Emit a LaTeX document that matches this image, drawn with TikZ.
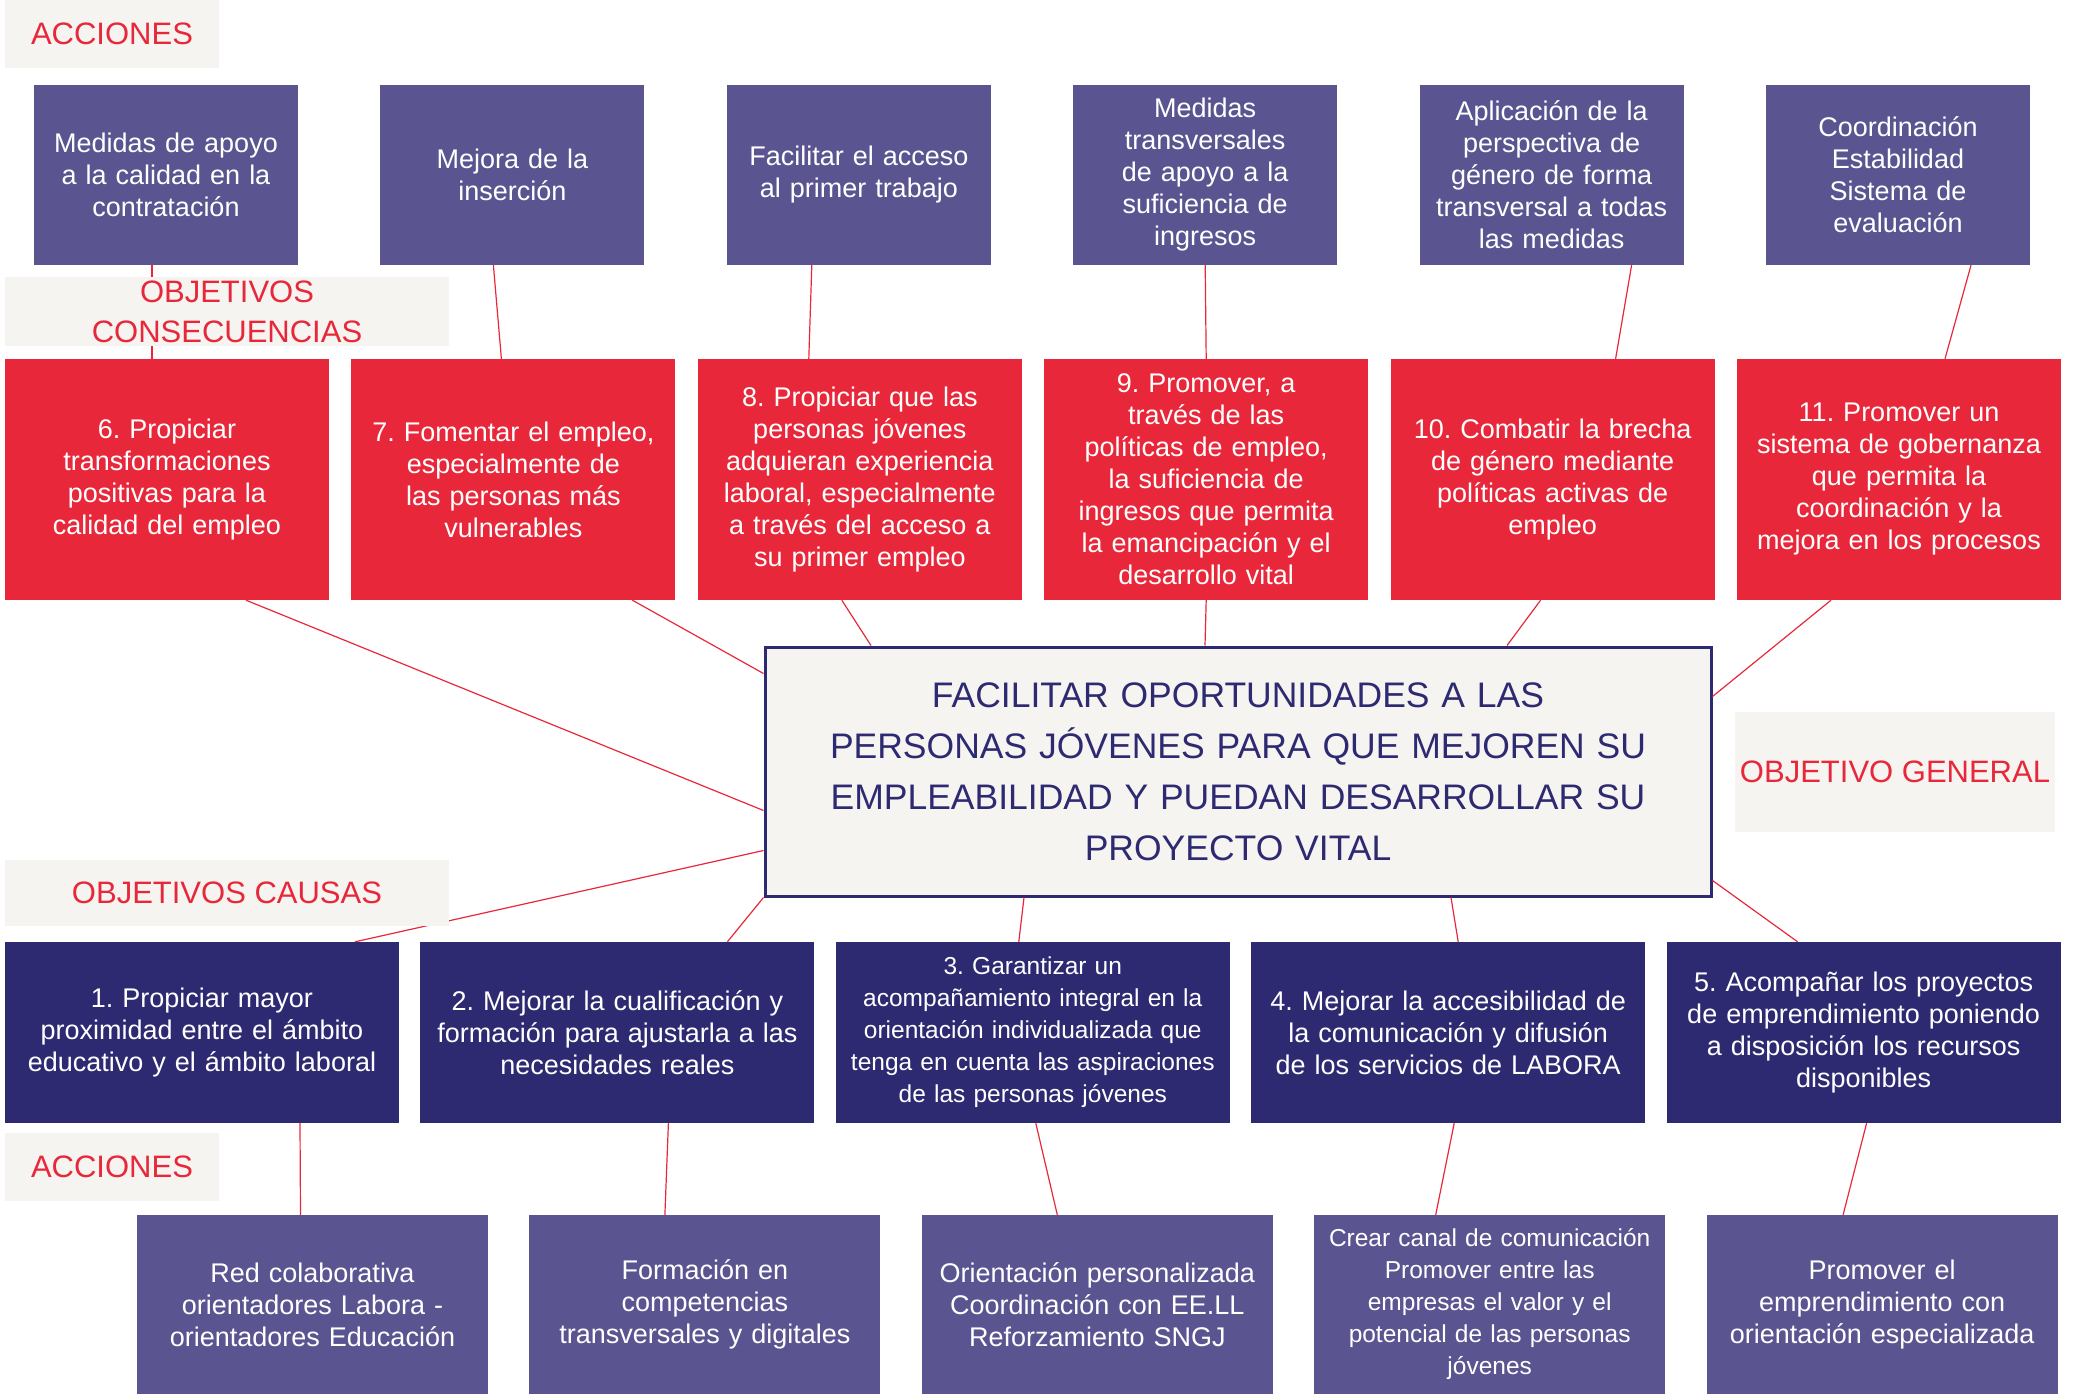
\documentclass[tikz,border=0pt]{standalone}
\usepackage{fontspec}
\setmainfont{Liberation Sans}
\frenchspacing
\usetikzlibrary{%
    positioning
}

\definecolor{accpurple}{HTML}{5A5590}
\definecolor{consred}{HTML}{E8283A}
\definecolor{causanavy}{HTML}{2E2A72}
\definecolor{tagbg}{HTML}{F5F4F0}
\definecolor{tagred}{HTML}{E8283A}
\definecolor{linkred}{HTML}{E8283A}

\begin{document}
\begin{tikzpicture}[x=1pt, y=-1pt,
    box/.style={align=center, text=white, inner xsep=6pt, inner ysep=0pt,
                font=\fontsize{27}{32}\selectfont},
    accion/.style={box, fill=accpurple, text width=252pt, minimum height=180pt},
    consec/.style={box, fill=consred, text width=312pt, minimum height=241pt},
    causa/.style={box, fill=causanavy, text width=382pt, minimum height=181pt},
    medida/.style={box, fill=accpurple, text width=339pt, minimum height=179pt},
    smaller/.style={font=\fontsize{24.5}{32}\selectfont},
    tag/.style={fill=tagbg, text=tagred, align=center, inner sep=0pt,
                font=\fontsize{31}{40}\selectfont},
    link/.style={draw=linkred, line width=1.2pt},
   ]
    \useasboundingbox (0,0) rectangle (2078,1394);

    % acciones (arriba)
    \node[accion] (acc-1) at (166,175) {Medidas de apoyo\\a la calidad en la\\contratación};
    \node[accion, right=82pt of acc-1] (acc-2) {Mejora de la\\inserción};
    \node[accion, right=82pt of acc-2] (acc-3) {Facilitar el acceso\\al primer trabajo};
    \node[accion, right=82pt of acc-3] (acc-4) {Medidas\\transversales\\de apoyo a la\\suficiencia de\\ingresos};
    \node[accion, right=82pt of acc-4] (acc-5) {Aplicación de la\\perspectiva de\\género de forma\\transversal a todas\\las medidas};
    \node[accion, right=82pt of acc-5] (acc-6) {Coordinación\\Estabilidad\\Sistema de\\evaluación};

    % objetivos consecuencias
    \node[consec] (cons-6) at (167,479.5) {6. Propiciar\\transformaciones\\positivas para la\\calidad del empleo};
    \node[consec, right=22pt of cons-6] (cons-7) {7. Fomentar el empleo,\\especialmente de\\las personas más\\vulnerables};
    \node[consec, right=22pt of cons-7] (cons-8) {8. Propiciar que las\\personas jóvenes\\adquieran experiencia\\laboral, especialmente\\a través del acceso a\\su primer empleo};
    \node[consec, right=22pt of cons-8] (cons-9) {9. Promover, a\\través de las\\políticas de empleo,\\la suficiencia de\\ingresos que permita\\la emancipación y el\\desarrollo vital};
    \node[consec, right=22pt of cons-9] (cons-10) {10. Combatir la brecha\\de género mediante\\políticas activas de\\empleo};
    \node[consec, right=22pt of cons-10] (cons-11) {11. Promover un\\sistema de gobernanza\\que permita la\\coordinación y la\\mejora en los procesos};

    % objetivo general
    \node[draw=causanavy, line width=3pt, fill=tagbg, text=causanavy, align=center,
          inner xsep=13pt, inner ysep=0pt, text width=920pt, minimum height=249pt,
          font=\fontsize{35.5}{51}\selectfont
         ] (general) at (1238,771.5)
          {FACILITAR OPORTUNIDADES A LAS\\PERSONAS JÓVENES PARA QUE MEJOREN SU\\EMPLEABILIDAD Y PUEDAN DESARROLLAR SU\\PROYECTO VITAL};

    % objetivos causas
    \node[causa] (causa-1) at (202,1032.5) {1. Propiciar mayor\\proximidad entre el ámbito\\educativo y el ámbito laboral};
    \node[causa, right=21pt of causa-1] (causa-2) {2. Mejorar la cualificación y\\formación para ajustarla a las\\necesidades reales};
    \node[causa, smaller, right=21pt of causa-2] (causa-3) {3. Garantizar un\\acompañamiento integral en la\\orientación individualizada que\\tenga en cuenta las aspiraciones\\de las personas jóvenes};
    \node[causa, right=21pt of causa-3] (causa-4) {4. Mejorar la accesibilidad de\\la comunicación y difusión\\de los servicios de LABORA};
    \node[causa, right=21pt of causa-4] (causa-5) {5. Acompañar los proyectos\\de emprendimiento poniendo\\a disposición los recursos\\disponibles};

    % acciones (abajo)
    \node[medida] (medida-1) at (312.5,1304.5) {Red colaborativa\\orientadores Labora -\\orientadores Educación};
    \node[medida, right=41pt of medida-1] (medida-2) {Formación en\\competencias\\transversales y digitales};
    \node[medida, right=41pt of medida-2] (medida-3) {Orientación personalizada\\Coordinación con EE.LL\\Reforzamiento SNGJ};
    \node[medida, smaller, right=41pt of medida-3] (medida-4) {Crear canal de comunicación\\Promover entre las\\empresas el valor y el\\potencial de las personas\\jóvenes};
    \node[medida, right=41pt of medida-4] (medida-5) {Promover el\\emprendimiento con\\orientación especializada};

    \foreach \Top/\Bot/\DxA/\DxB in {1/6/-14pt/-15pt, 2/7/-19pt/-12pt, 3/8/-47pt/-51pt,
                                      4/9/0pt/0pt, 5/10/80pt/63pt, 6/11/73pt/46pt}
        \draw[link] ([xshift=\DxA]acc-\Top.south) -- ([xshift=\DxB]cons-\Bot.north);

    \draw[link] ([xshift=79pt]cons-6.south)   -- ([yshift=-39pt]general.west);
    \draw[link] ([xshift=119pt]cons-7.south)  -- ([yshift=98pt]general.west);
    \draw[link] ([xshift=-18pt]cons-8.south)  -- ([xshift=-367pt]general.north);
    \draw[link] (cons-9.south)                -- ([xshift=-33pt]general.north);
    \draw[link] ([xshift=-12pt]cons-10.south) -- ([xshift=269pt]general.north);
    \draw[link] ([xshift=-68pt]cons-11.south) -- ([yshift=75pt]general.east);

    \draw[link] ([yshift=-79pt]general.west)   -- ([xshift=153pt]causa-1.north);
    \draw[link] (general.south west)           -- ([xshift=110pt]causa-2.north);
    \draw[link] ([xshift=-214pt]general.south) -- ([xshift=-14pt]causa-3.north);
    \draw[link] ([xshift=213pt]general.south)  -- ([xshift=10pt]causa-4.north);
    \draw[link] ([yshift=-109pt]general.east)  -- ([xshift=-66pt]causa-5.north);

    \foreach \Node/\DxA/\DxB in {1/98pt/-12pt, 2/51pt/-40pt, 3/3pt/-40pt,
                                 4/6pt/-54pt, 5/3pt/-39pt}
        \draw[link] ([xshift=\DxA]causa-\Node.south) -- ([xshift=\DxB]medida-\Node.north);

    % rotulos
    \node[tag, minimum width=214pt, minimum height=68pt] (tag-acc-top) at (112,34) {ACCIONES};
    \node[tag, minimum width=444pt, minimum height=69pt] (tag-cons) at (227,311.5) {OBJETIVOS\\CONSECUENCIAS};
    \node[tag, minimum width=320pt, minimum height=120pt] (tag-general) at (1895,772) {OBJETIVO GENERAL};
    \node[tag, minimum width=444pt, minimum height=66pt] (tag-causas) at (227,893) {OBJETIVOS CAUSAS};
    \node[tag, minimum width=214pt, minimum height=68pt] (tag-acc-bot) at (112,1167) {ACCIONES};
\end{tikzpicture}
\end{document}
